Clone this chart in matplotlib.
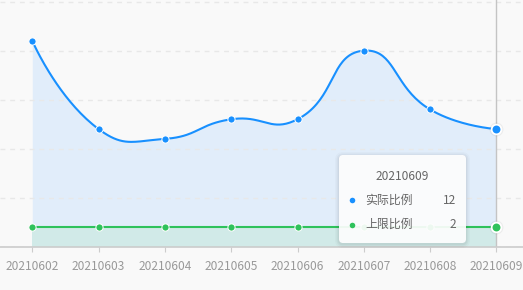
import numpy as np
import matplotlib
matplotlib.use('Agg')
import matplotlib.pyplot as plt
from matplotlib.patches import FancyBboxPatch

plt.rcParams['font.family'] = ['Noto Sans CJK SC', 'DejaVu Sans']

dates = ['20210602', '20210603', '20210604', '20210605',
         '20210606', '20210607', '20210608', '20210609']
actual = [21, 12, 11, 13, 13, 20, 14, 12]
limit = [2, 2, 2, 2, 2, 2, 2, 2]
names = ['实际比例', '上限比例']
hover = 7

blue = '#1890ff'
green = '#2fc25b'
bg = '#f9f9f9'


def smooth_curve(ys, sx, sy, smooth=0.5, n=40):
    # echarts style bezier smoothing, distances taken in pixel units
    px = np.arange(len(ys)) * sx
    py = np.asarray(ys, float) * sy
    m = len(px)
    cin, cout = [], []
    for i in range(m):
        if i == 0 or i == m - 1:
            cin.append((px[i], py[i])); cout.append((px[i], py[i]))
            continue
        vx = px[i + 1] - px[i - 1]; vy = py[i + 1] - py[i - 1]
        l0 = np.hypot(px[i] - px[i - 1], py[i] - py[i - 1])
        l1 = np.hypot(px[i + 1] - px[i], py[i + 1] - py[i])
        r = l1 / (l0 + l1)
        cout.append((px[i] + vx * smooth * r, py[i] + vy * smooth * r))
        cin.append((px[i] - vx * smooth * (1 - r), py[i] - vy * smooth * (1 - r)))
    t = np.linspace(0, 1, n)[:, None]
    segs = []
    for i in range(m - 1):
        p0 = np.array([px[i], py[i]]); p3 = np.array([px[i + 1], py[i + 1]])
        p1 = np.array(cout[i]); p2 = np.array(cin[i + 1])
        b = ((1 - t) ** 3) * p0 + 3 * ((1 - t) ** 2) * t * p1 + 3 * (1 - t) * t ** 2 * p2 + t ** 3 * p3
        segs.append(b if i == 0 else b[1:])
    c = np.vstack(segs)
    return c[:, 0] / sx, c[:, 1] / sy


fig = plt.figure(figsize=(5.23, 2.9), dpi=100)
fig.patch.set_facecolor(bg)
ax = fig.add_axes([0, 43.3 / 290, 1, 246.7 / 290])
ax.set_facecolor(bg)

x = np.arange(len(dates))
bx, by = smooth_curve(actual, 66.3, 9.8)

ax.fill_between(bx, 0, by, color='#e1edfa', lw=0, zorder=1)
ax.fill_between(x, 0, limit, color='#d1eae8', lw=0, zorder=2)
ax.plot(bx, by, color=blue, lw=1.5, zorder=4, solid_capstyle='round')
ax.plot(x, limit, color=green, lw=1.5, zorder=4)

ax.axvline(hover, color='#c4c4c4', lw=1, zorder=3)

ax.plot(x[:hover], actual[:hover], 'o', ms=5.2, color=blue, mec='white', mew=0.7, zorder=5)
ax.plot(x[:hover], limit[:hover], 'o', ms=5.2, color=green, mec='white', mew=0.7, zorder=5)
# hovered points
ax.plot(x[hover], actual[hover], 'o', ms=10, color='#000000', alpha=0.05, mew=0, zorder=5)
ax.plot(x[hover], limit[hover], 'o', ms=10, color='#000000', alpha=0.05, mew=0, zorder=5)
ax.plot(x[hover], actual[hover], 'o', ms=7, color=blue, mec='white', mew=1.3, zorder=6)
ax.plot(x[hover], limit[hover], 'o', ms=7, color=green, mec='white', mew=1.3, zorder=6)

ax.set_xlim(-0.487, 7.401)
ax.set_ylim(0, 25.17)
ax.set_yticks([0, 5, 10, 15, 20, 25])
ax.set_yticklabels([])
ax.tick_params(axis='y', length=0)
ax.grid(axis='y', color='#e8e8e8', lw=1, linestyle=(0, (3.5, 3.5)), zorder=0)
ax.set_xticks(x)
ax.set_xticklabels(dates)
ax.tick_params(axis='x', length=3.5, width=0.8, color='#cccccc', labelcolor='#999999',
               labelsize=8.6, pad=6)
for s in ['top', 'left', 'right']:
    ax.spines[s].set_visible(False)
ax.spines['bottom'].set_color('#cccccc')
ax.spines['bottom'].set_linewidth(1.2)
ax.spines['bottom'].set_zorder(7)

# tooltip
ov = fig.add_axes([0, 0, 1, 1])
ov.set_xlim(0, 523)
ov.set_ylim(290, 0)
ov.axis('off')
ov.patch.set_alpha(0)
for k, a in [(4, 0.02), (2.5, 0.03), (1.2, 0.04)]:
    ov.add_patch(FancyBboxPatch((339 - k, 155 - k + 1), 127 + 2 * k, 88 + 2 * k,
                                boxstyle='round,pad=0,rounding_size=%g' % (4 + k),
                                fc='black', ec='none', alpha=a))
ov.add_patch(FancyBboxPatch((339, 155), 127, 88, boxstyle='round,pad=0,rounding_size=4',
                            fc='white', ec='none', alpha=0.92))
ov.text(402.5, 176, dates[hover], ha='center', va='center', fontsize=8.6, color='#666666')
vals = [actual[hover], limit[hover]]
cols = [blue, green]
for j in range(2):
    yy = 200 + j * 24.5
    ov.plot(351.5, yy, 'o', ms=4, color=cols[j], mew=0)
    ov.text(365, yy, names[j], ha='left', va='center', fontsize=8.6, color='#666666')
    ov.text(456, yy, str(vals[j]), ha='right', va='center', fontsize=8.6, color='#666666')

fig.savefig('out.png', dpi=100, facecolor=bg)
